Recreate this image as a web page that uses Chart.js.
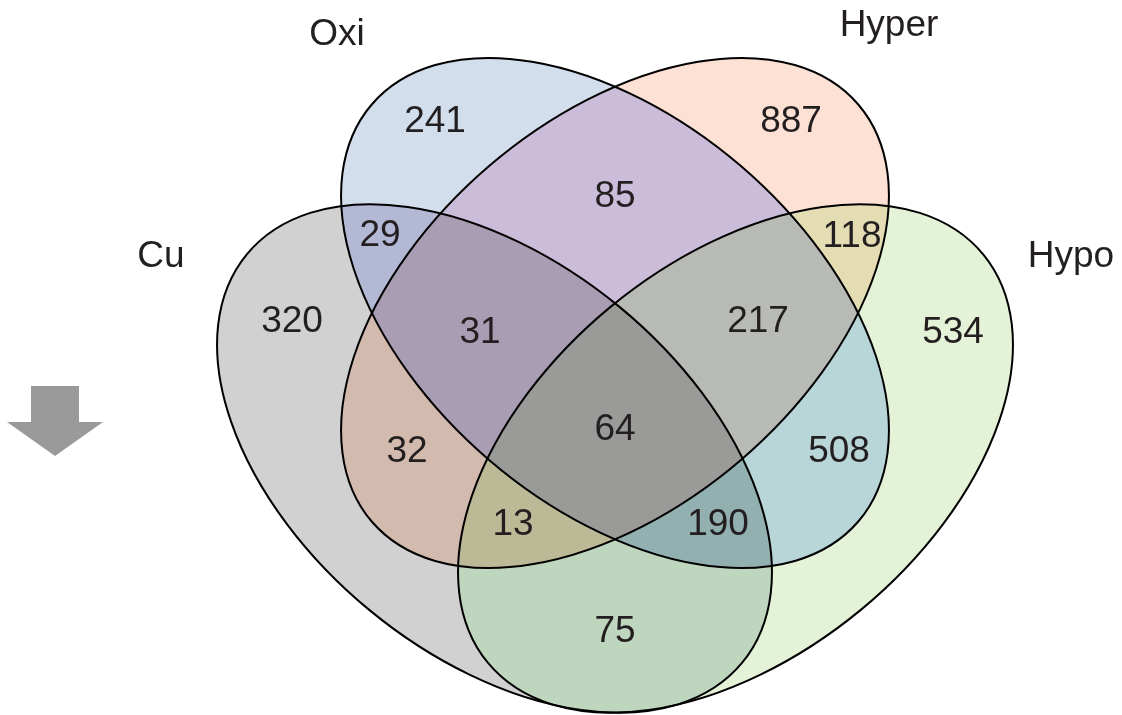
<!DOCTYPE html>
<html>
<head>
<meta charset="utf-8">
<script src="https://cdn.jsdelivr.net/npm/chart.js@4.4.1/dist/chart.umd.min.js"></script>
<style>
  html, body { margin: 0; padding: 0; background: #fff; }
  #wrap { width: 1122px; height: 715px; position: relative; }
</style>
</head>
<body>
<div id="wrap"><canvas id="venn"></canvas></div>
<script>
// Sets and counts of each Venn region
const setNames = ['Cu', 'Oxi', 'Hyper', 'Hypo'];
const regionSets = [
    ['Oxi'], ['Hyper'], ['Oxi', 'Hyper'], ['Cu', 'Oxi'], ['Hyper', 'Hypo'],
    ['Cu'], ['Cu', 'Oxi', 'Hyper'], ['Oxi', 'Hyper', 'Hypo'], ['Hypo'],
    ['Cu', 'Oxi', 'Hyper', 'Hypo'], ['Cu', 'Hyper'], ['Oxi', 'Hypo'],
    ['Cu', 'Hyper', 'Hypo'], ['Cu', 'Oxi', 'Hypo'], ['Cu', 'Hypo']
];
const regionCounts = [241, 887, 85, 29, 118, 320, 31, 217, 534, 64, 32, 508, 13, 190, 75];

// Layout, in axis units (axes span the whole frame)
const ellipseShapes = [
    { cx: 494.5, cy: 458.5, a: 321, b: 196.5, rot: 39.5 },   // Cu
    { cx: 615, cy: 313, a: 320.4, b: 193.5, rot: 40.6 },     // Oxi
    { cx: 615, cy: 313, a: 320.4, b: 193.5, rot: -40.6 },    // Hyper
    { cx: 735.5, cy: 458.5, a: 321, b: 196.5, rot: -39.5 }   // Hypo
];
const setLabelPos = [[161, 257], [337, 35], [889, 26], [1071, 257]];
const regionLabelPos = [
    [435, 122], [791, 122], [615, 197], [380, 236], [852, 237],
    [292, 322], [480, 333], [758, 322], [953, 333],
    [615, 430], [407, 452], [839, 452],
    [513, 525], [718, 525], [615, 632]
];
const regionColors = [
    '#d2deec', '#fce1d4', '#cbbdda', '#b3b8d5', '#e4ddb4',
    '#d1d1d1', '#a99db4', '#b8bab6', '#e4f2d8',
    '#9a9b98', '#d3baae', '#b8d5d8',
    '#bcb996', '#92b0b0', '#bed6bd'
];
const arrowShape = [[31, 386], [79, 386], [79, 422], [103, 422], [55, 456], [7, 422], [31, 422]];

const FONT = '37px "Liberation Sans", Arial, sans-serif';
const TEXT_COLOR = '#231f20';

function toPx(chart, x, y) {
    return [chart.scales.x.getPixelForValue(x), chart.scales.y.getPixelForValue(y)];
}

function ellipsePath(chart, ctx, e) {
    const [px, py] = toPx(chart, e.cx, e.cy);
    const k = chart.scales.x.getPixelForValue(1) - chart.scales.x.getPixelForValue(0);
    ctx.ellipse(px, py, e.a * k, e.b * k, e.rot * Math.PI / 180, 0, Math.PI * 2);
}

const vennPlugin = {
    id: 'venn',
    beforeDatasetsDraw(chart) {
        const ctx = chart.ctx;
        const w = chart.width, h = chart.height;

        // fill each region separately through clipping
        regionSets.forEach((sets, r) => {
            ctx.save();
            setNames.forEach((name, i) => {
                ctx.beginPath();
                if (!sets.includes(name)) ctx.rect(0, 0, w, h);
                ellipsePath(chart, ctx, ellipseShapes[i]);
                ctx.clip('evenodd');
            });
            ctx.fillStyle = regionColors[r];
            ctx.fillRect(0, 0, w, h);
            ctx.restore();
        });

        // outlines
        ctx.save();
        ctx.strokeStyle = '#000';
        ctx.lineWidth = 2;
        ellipseShapes.forEach(e => {
            ctx.beginPath();
            ellipsePath(chart, ctx, e);
            ctx.stroke();
        });
        ctx.restore();

        // grey arrow on the left
        ctx.save();
        ctx.fillStyle = '#9a9a9a';
        ctx.beginPath();
        arrowShape.forEach(([x, y], i) => {
            const [px, py] = toPx(chart, x, y);
            if (i === 0) ctx.moveTo(px, py); else ctx.lineTo(px, py);
        });
        ctx.closePath();
        ctx.fill();
        ctx.restore();
    },
    afterDatasetsDraw(chart) {
        const ctx = chart.ctx;
        ctx.save();
        ctx.font = FONT;
        ctx.fillStyle = TEXT_COLOR;
        ctx.textAlign = 'center';
        ctx.textBaseline = 'middle';

        // counts, placed at the dataset points
        chart.getDatasetMeta(0).data.forEach((pt, i) => {
            ctx.fillText(String(regionCounts[i]), pt.x, pt.y);
        });
        // set names
        chart.getDatasetMeta(1).data.forEach((pt, i) => {
            ctx.fillText(setNames[i], pt.x, pt.y);
        });
        ctx.restore();
    }
};

new Chart(document.getElementById('venn'), {
    type: 'scatter',
    data: {
        datasets: [
            {
                data: regionLabelPos.map(([x, y]) => ({ x, y })),
                pointRadius: 0,
                pointHoverRadius: 0
            },
            {
                data: setLabelPos.map(([x, y]) => ({ x, y })),
                pointRadius: 0,
                pointHoverRadius: 0
            }
        ]
    },
    options: {
        responsive: true,
        maintainAspectRatio: false,
        animation: false,
        layout: { padding: 0 },
        plugins: {
            legend: { display: false },
            tooltip: { enabled: false }
        },
        scales: {
            x: { type: 'linear', min: 0, max: 1122, display: false },
            y: { type: 'linear', min: 0, max: 715, reverse: true, display: false }
        }
    },
    plugins: [vennPlugin]
});
</script>
</body>
</html>
